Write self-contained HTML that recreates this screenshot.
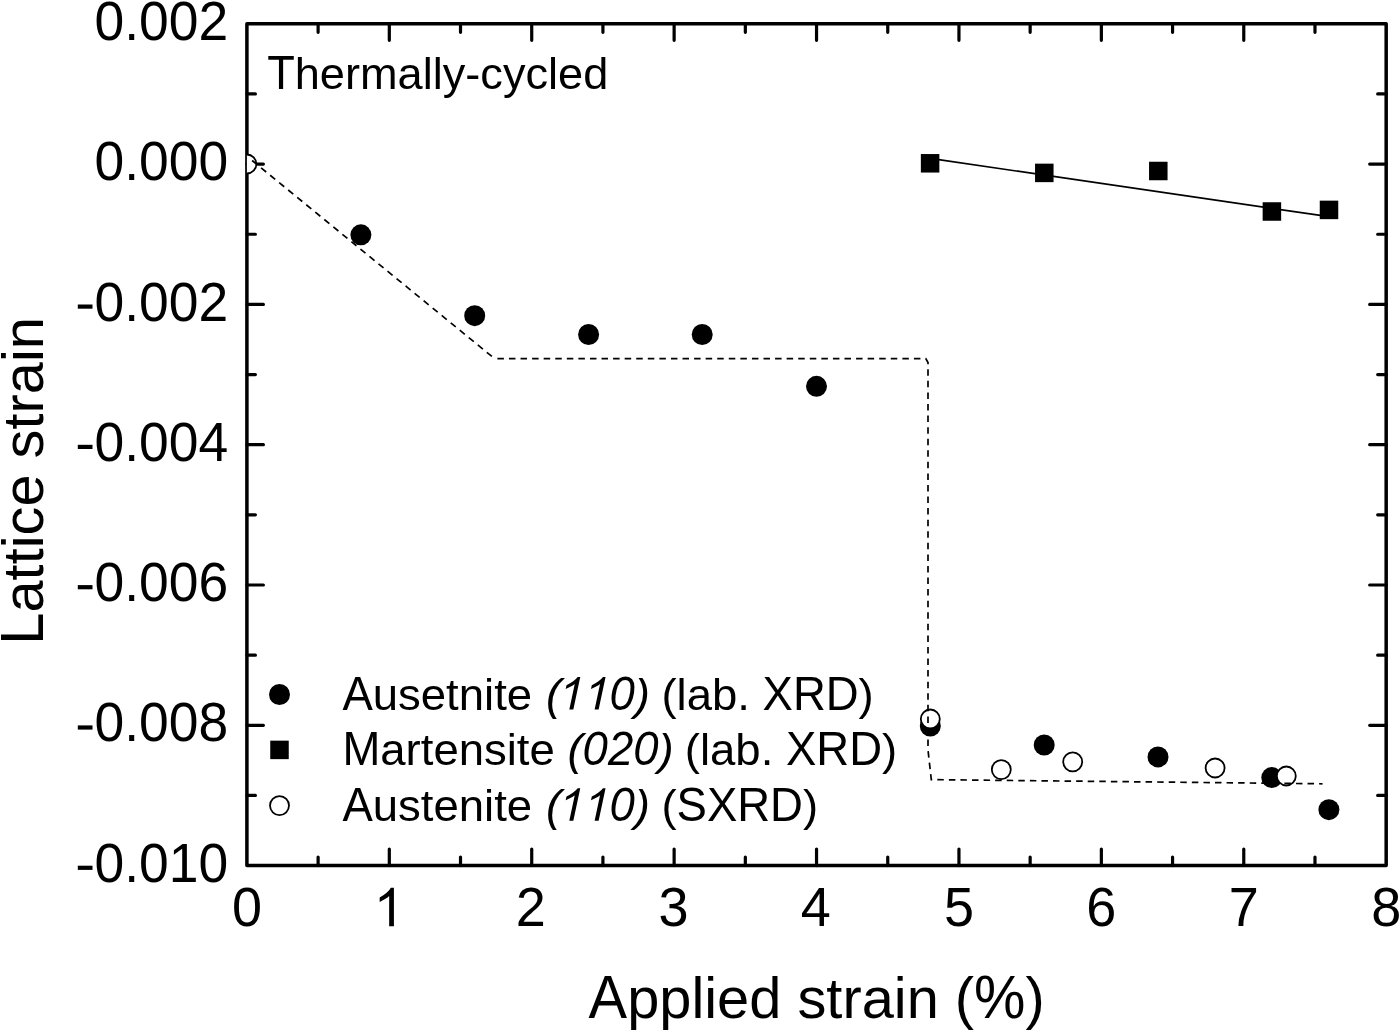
<!DOCTYPE html>
<html><head><meta charset="utf-8"><title>Lattice strain vs applied strain</title>
<style>html,body{margin:0;padding:0;background:#fff;}body{width:1400px;height:1031px;overflow:hidden;font-family:"Liberation Sans",sans-serif;}svg{display:block;will-change:transform;filter:grayscale(1);}</style>
</head><body>
<svg width="1400" height="1031" viewBox="0 0 1400 1031">
<defs><clipPath id="pc"><rect x="246.90" y="23.80" width="1139.28" height="841.80"/></clipPath></defs>
<rect width="1400" height="1031" fill="#fff"/>
<path d="M318.11 865.60V857.10M318.11 23.80V32.30M389.31 865.60V849.10M389.31 23.80V40.30M460.51 865.60V857.10M460.51 23.80V32.30M531.72 865.60V849.10M531.72 23.80V40.30M602.92 865.60V857.10M602.92 23.80V32.30M674.13 865.60V849.10M674.13 23.80V40.30M745.34 865.60V857.10M745.34 23.80V32.30M816.54 865.60V849.10M816.54 23.80V40.30M887.75 865.60V857.10M887.75 23.80V32.30M958.95 865.60V849.10M958.95 23.80V40.30M1030.15 865.60V857.10M1030.15 23.80V32.30M1101.36 865.60V849.10M1101.36 23.80V40.30M1172.57 865.60V857.10M1172.57 23.80V32.30M1243.77 865.60V849.10M1243.77 23.80V40.30M1314.98 865.60V857.10M1314.98 23.80V32.30M246.90 93.95H255.40M1386.18 93.95H1377.68M246.90 164.10H263.40M1386.18 164.10H1369.68M246.90 234.25H255.40M1386.18 234.25H1377.68M246.90 304.40H263.40M1386.18 304.40H1369.68M246.90 374.55H255.40M1386.18 374.55H1377.68M246.90 444.70H263.40M1386.18 444.70H1369.68M246.90 514.85H255.40M1386.18 514.85H1377.68M246.90 585.00H263.40M1386.18 585.00H1369.68M246.90 655.15H255.40M1386.18 655.15H1377.68M246.90 725.30H263.40M1386.18 725.30H1369.68M246.90 795.45H255.40M1386.18 795.45H1377.68" stroke="#000" stroke-width="3.2" stroke-linecap="round" fill="none"/>
<rect x="246.90" y="23.80" width="1139.28" height="841.80" fill="none" stroke="#000" stroke-width="3.5" stroke-linejoin="round"/>
<g clip-path="url(#pc)">
<line x1="930.1" y1="158.4" x2="1329.0" y2="216.7" stroke="#000" stroke-width="1.7"/>
<rect x="920.85" y="154.05" width="18.5" height="18.5" fill="#000"/>
<rect x="1035.05" y="163.65" width="18.5" height="18.5" fill="#000"/>
<rect x="1149.05" y="161.75" width="18.5" height="18.5" fill="#000"/>
<rect x="1262.65" y="202.25" width="18.5" height="18.5" fill="#000"/>
<rect x="1319.75" y="200.65" width="18.5" height="18.5" fill="#000"/>
<circle cx="360.90" cy="234.8" r="10.5" fill="#000"/>
<circle cx="474.70" cy="315.7" r="10.5" fill="#000"/>
<circle cx="588.60" cy="334.5" r="10.5" fill="#000"/>
<circle cx="702.20" cy="334.5" r="10.5" fill="#000"/>
<circle cx="816.50" cy="386.3" r="10.5" fill="#000"/>
<circle cx="930.30" cy="726.0" r="10.5" fill="#000"/>
<circle cx="1044.20" cy="745.0" r="10.5" fill="#000"/>
<circle cx="1158.00" cy="756.9" r="10.5" fill="#000"/>
<circle cx="1271.80" cy="777.6" r="10.5" fill="#000"/>
<circle cx="1328.90" cy="809.7" r="10.5" fill="#000"/>
<circle cx="246.90" cy="164.0" r="9.5" fill="#fff" stroke="#000" stroke-width="1.8"/>
<circle cx="930.30" cy="719.0" r="9.5" fill="#fff" stroke="#000" stroke-width="1.8"/>
<circle cx="1001.30" cy="769.6" r="9.5" fill="#fff" stroke="#000" stroke-width="1.8"/>
<circle cx="1072.70" cy="761.8" r="9.5" fill="#fff" stroke="#000" stroke-width="1.8"/>
<circle cx="1215.10" cy="768.0" r="9.5" fill="#fff" stroke="#000" stroke-width="1.8"/>
<circle cx="1286.30" cy="776.0" r="9.5" fill="#fff" stroke="#000" stroke-width="1.8"/>
<path d="M252.1 160.5L494.5 358.6" fill="none" stroke="#000" stroke-width="1.7" stroke-dasharray="6.5 5.16"/>
<path d="M494.5 358.6L925.8 358.6L928 362.5L928 750L931.3 779.6L1322.5 783.8" fill="none" stroke="#000" stroke-width="1.7" stroke-dasharray="6.5 5.07" stroke-dashoffset="8.67"/>
</g>
<text font-family="Liberation Sans, sans-serif" font-size="54" transform="translate(228.20 39.90) scale(0.9900 1.0400)" text-anchor="end">0.002</text>
<text font-family="Liberation Sans, sans-serif" font-size="54" transform="translate(228.20 180.20) scale(0.9900 1.0400)" text-anchor="end">0.000</text>
<text font-family="Liberation Sans, sans-serif" font-size="54" transform="translate(228.20 320.50) scale(0.9900 1.0400)" text-anchor="end">0.002</text>
<rect x="77.8" y="304.50" width="14.7" height="4.2" fill="#000"/>
<text font-family="Liberation Sans, sans-serif" font-size="54" transform="translate(228.20 460.80) scale(0.9900 1.0400)" text-anchor="end">0.004</text>
<rect x="77.8" y="444.80" width="14.7" height="4.2" fill="#000"/>
<text font-family="Liberation Sans, sans-serif" font-size="54" transform="translate(228.20 601.10) scale(0.9900 1.0400)" text-anchor="end">0.006</text>
<rect x="77.8" y="585.10" width="14.7" height="4.2" fill="#000"/>
<text font-family="Liberation Sans, sans-serif" font-size="54" transform="translate(228.20 741.40) scale(0.9900 1.0400)" text-anchor="end">0.008</text>
<rect x="77.8" y="725.40" width="14.7" height="4.2" fill="#000"/>
<text font-family="Liberation Sans, sans-serif" font-size="54" transform="translate(228.20 881.70) scale(0.9900 1.0400)" text-anchor="end">0.010</text>
<rect x="77.8" y="865.70" width="14.7" height="4.2" fill="#000"/>
<text font-family="Liberation Sans, sans-serif" font-size="54" transform="translate(246.90 926.30) scale(1.0000 1.0400)" text-anchor="middle">0</text>
<path d="M763 0L583 0L583 1147Q518 1085 410.5 1021.5Q303 958 223 921L223 1095Q374 1166 486.5 1268.5Q599 1371 647 1466L763 1466Z" fill="#000" transform="translate(373.79 926.3) scale(0.02637 -0.02637)"/>
<text font-family="Liberation Sans, sans-serif" font-size="54" transform="translate(530.72 926.30) scale(1.0000 1.0400)" text-anchor="middle">2</text>
<text font-family="Liberation Sans, sans-serif" font-size="54" transform="translate(673.63 926.30) scale(1.0000 1.0400)" text-anchor="middle">3</text>
<text font-family="Liberation Sans, sans-serif" font-size="54" transform="translate(815.74 926.30) scale(1.0000 1.0400)" text-anchor="middle">4</text>
<text font-family="Liberation Sans, sans-serif" font-size="54" transform="translate(958.95 926.30) scale(1.0000 1.0400)" text-anchor="middle">5</text>
<text font-family="Liberation Sans, sans-serif" font-size="54" transform="translate(1101.36 926.30) scale(1.0000 1.0400)" text-anchor="middle">6</text>
<text font-family="Liberation Sans, sans-serif" font-size="54" transform="translate(1243.77 926.30) scale(1.0000 1.0400)" text-anchor="middle">7</text>
<text font-family="Liberation Sans, sans-serif" font-size="54" transform="translate(1386.18 926.30) scale(1.0000 1.0400)" text-anchor="middle">8</text>
<text font-family="Liberation Sans, sans-serif" font-size="58" transform="translate(588.60 1018.00) scale(0.9965 1.0400)" style="font-kerning:none"><tspan x="0.00 386.86">A%</tspan></text>
<text font-family="Liberation Sans, sans-serif" font-size="58" transform="translate(588.60 1018.00) scale(0.9965 0.9850)" style="font-kerning:none"><tspan x="38.69 70.94 103.20 116.08 128.97 161.23 209.60 238.60 254.71 274.03 306.28 319.17 367.54 438.43">ppliedstrain()</tspan></text>
<text font-family="Liberation Sans, sans-serif" font-size="58" transform="translate(42.80 480.90) rotate(-90) scale(0.9960 1.0400)" style="font-kerning:none"><tspan x="-164.41">L</tspan></text>
<text font-family="Liberation Sans, sans-serif" font-size="58" transform="translate(42.80 480.90) rotate(-90) scale(0.9960 0.9850)" style="font-kerning:none"><tspan x="-132.16 -99.90 -83.79 -67.67 -54.79 -25.79 22.59 51.59 67.70 87.01 119.27 132.16">atticestrain</tspan></text>
<text font-family="Liberation Sans, sans-serif" font-size="45.5" transform="translate(267.20 88.70) scale(0.9920 1.0400)" style="font-kerning:none"><tspan x="0.00">T</tspan></text>
<text font-family="Liberation Sans, sans-serif" font-size="45.5" transform="translate(267.20 88.70) scale(0.9920 0.9850)" style="font-kerning:none"><tspan x="27.79 53.10 78.40 93.55 131.46 156.76 166.87 176.98 199.73 214.88 237.63 260.38 283.13 293.24 318.54">hermally-cycled</tspan></text>
<circle cx="279.5" cy="694.5" r="10.5" fill="#000"/>
<rect x="270.25" y="740.65" width="18.5" height="18.5" fill="#000"/>
<circle cx="279.5" cy="805.6" r="9.5" fill="#fff" stroke="#000" stroke-width="1.8"/>
<text font-family="Liberation Sans, sans-serif" font-size="45.5" transform="translate(342.40 709.50) scale(1.0000 1.0400)" style="font-kerning:none"><tspan x="0.00 420.16 450.51 483.37">AXRD</tspan><tspan x="267.11" font-style="italic">0</tspan></text>
<text font-family="Liberation Sans, sans-serif" font-size="45.5" transform="translate(342.40 709.50) scale(1.0000 0.9850)" style="font-kerning:none"><tspan x="30.35 55.65 78.40 103.71 116.35 141.65 151.76 164.40 319.01 334.16 344.27 369.58 394.88 516.23">usetnite(lab.)</tspan><tspan x="203.55 292.42" font-style="italic">()</tspan></text>
<path d="M763 0L583 0L583 1147Q518 1085 410.5 1021.5Q303 958 223 921L223 1095Q374 1166 486.5 1268.5Q599 1371 647 1466L763 1466Z" transform="translate(342.40 709.50) scale(1.0000 1) translate(218.70 0) scale(0.02222 -0.02222) skewX(12) translate(-213 0)"/>
<path d="M763 0L583 0L583 1147Q518 1085 410.5 1021.5Q303 958 223 921L223 1095Q374 1166 486.5 1268.5Q599 1371 647 1466L763 1466Z" transform="translate(342.40 709.50) scale(1.0000 1) translate(244.01 0) scale(0.02222 -0.02222) skewX(12) translate(-213 0)"/>
<text font-family="Liberation Sans, sans-serif" font-size="45.5" transform="translate(342.40 764.80) scale(1.0000 1.0400)" style="font-kerning:none"><tspan x="0.00 443.57 473.92 506.78">MXRD</tspan><tspan x="240.21 265.51 290.82" font-style="italic">020</tspan></text>
<text font-family="Liberation Sans, sans-serif" font-size="45.5" transform="translate(342.40 764.80) scale(1.0000 0.9850)" style="font-kerning:none"><tspan x="37.90 63.21 78.36 91.00 116.30 141.61 164.36 174.47 187.11 342.42 357.57 367.68 392.98 418.29 539.63">artensite(lab.)</tspan><tspan x="225.06 316.12" font-style="italic">()</tspan></text>
<text font-family="Liberation Sans, sans-serif" font-size="45.5" transform="translate(342.40 820.80) scale(1.0000 1.0400)" style="font-kerning:none"><tspan x="0.00 334.16 364.51 394.86 427.72">ASXRD</tspan><tspan x="267.11" font-style="italic">0</tspan></text>
<text font-family="Liberation Sans, sans-serif" font-size="45.5" transform="translate(342.40 820.80) scale(1.0000 0.9850)" style="font-kerning:none"><tspan x="30.35 55.65 78.40 91.04 116.35 141.65 151.76 164.40 319.01 460.58">ustenite()</tspan><tspan x="203.55 292.42" font-style="italic">()</tspan></text>
<path d="M763 0L583 0L583 1147Q518 1085 410.5 1021.5Q303 958 223 921L223 1095Q374 1166 486.5 1268.5Q599 1371 647 1466L763 1466Z" transform="translate(342.40 820.80) scale(1.0000 1) translate(218.70 0) scale(0.02222 -0.02222) skewX(12) translate(-213 0)"/>
<path d="M763 0L583 0L583 1147Q518 1085 410.5 1021.5Q303 958 223 921L223 1095Q374 1166 486.5 1268.5Q599 1371 647 1466L763 1466Z" transform="translate(342.40 820.80) scale(1.0000 1) translate(244.01 0) scale(0.02222 -0.02222) skewX(12) translate(-213 0)"/>
</svg>
</body></html>
